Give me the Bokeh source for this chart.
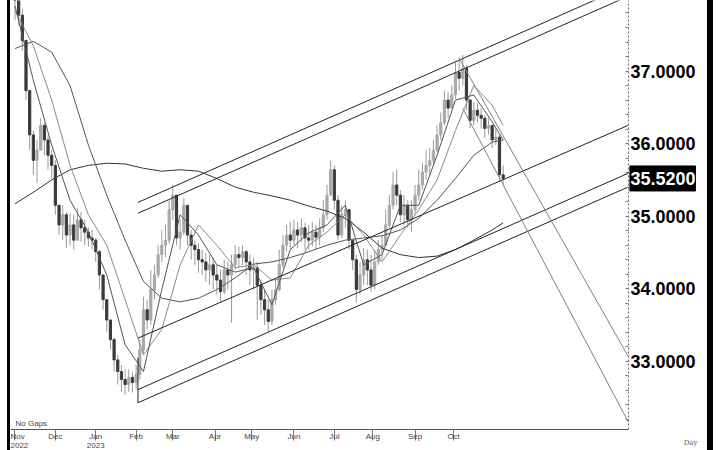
import numpy as np
import pandas as pd
from bokeh.plotting import figure
from bokeh.models import Range1d, FixedTicker, ColumnDataSource, Label, Div, LinearAxis
from bokeh.layouts import row
from bokeh.core.properties import value
from bokeh.embed import file_html
from bokeh.resources import INLINE

# ---------------- data (USD/THB daily, no gaps) ----------------
days = pd.bdate_range("2022-11-01", "2023-11-08")
bar_step = 2
first_open = 38.10

closes = [38.04, 37.77, 37.42, 36.73, 36.12, 35.77, 35.91, 36.25, 36.05, 35.84,
          35.70, 35.15, 34.88, 35.02, 34.74, 34.88, 34.67, 34.95, 34.84, 34.78,
          34.70, 34.67, 34.51, 34.19, 33.85, 33.57, 33.30, 33.02, 32.86, 32.75,
          32.68, 32.78, 32.71, 32.82, 33.16, 33.71, 33.57, 33.99, 34.19, 34.47,
          34.60, 34.67, 35.09, 35.29, 34.70, 34.78, 35.15, 34.74, 34.60, 34.54,
          34.40, 34.37, 34.26, 34.33, 34.19, 34.12, 33.96, 34.26, 34.19, 34.33,
          34.47, 34.43, 34.51, 34.37, 34.26, 34.29, 34.05, 33.85, 33.71, 33.55,
          33.85, 33.99, 34.33, 34.60, 34.74, 34.67, 34.81, 34.74, 34.84, 34.70,
          34.67, 34.78, 34.71, 34.84, 35.02, 35.29, 35.64, 35.22, 34.74, 35.02,
          35.09, 34.67, 34.40, 33.99, 34.19, 34.40, 34.26, 34.05, 34.37, 34.54,
          34.60, 34.88, 35.15, 35.43, 35.29, 35.02, 35.15, 34.95, 35.09, 35.29,
          35.43, 35.61, 35.70, 35.77, 35.91, 36.12, 36.29, 36.60, 36.49, 36.67,
          36.98, 36.90, 37.04, 36.60, 36.32, 36.46, 36.39, 36.35, 36.21, 36.25,
          36.05, 36.09, 35.57, 35.52]

highs = [38.25, 37.94, 37.86, 37.42, 36.73, 36.18, 36.05, 36.35, 36.29, 36.12,
         35.91, 35.77, 35.15, 35.15, 35.06, 35.04, 35.02, 35.11, 35.06, 34.95,
         34.84, 34.81, 34.70, 34.54, 34.19, 33.85, 33.57, 33.33, 33.09, 32.95,
         32.89, 32.89, 32.86, 32.95, 33.30, 33.89, 33.85, 34.26, 34.33, 34.60,
         34.81, 34.88, 35.22, 35.43, 35.29, 34.95, 35.25, 35.15, 34.81, 34.67,
         34.63, 34.54, 34.49, 34.47, 34.43, 34.33, 34.26, 34.40, 34.37, 34.47,
         34.60, 34.58, 34.60, 34.54, 34.47, 34.43, 34.37, 34.12, 33.99, 33.85,
         33.99, 34.12, 34.54, 34.74, 34.88, 34.92, 34.95, 34.92, 34.97, 34.91,
         34.88, 34.92, 34.88, 34.97, 35.22, 35.43, 35.77, 35.70, 35.29, 35.15,
         35.22, 35.09, 34.67, 34.47, 34.37, 34.56, 34.54, 34.47, 34.54, 34.67,
         34.74, 35.09, 35.29, 35.61, 35.64, 35.36, 35.29, 35.22, 35.22, 35.43,
         35.64, 35.74, 35.91, 35.94, 36.05, 36.25, 36.43, 36.73, 36.71, 36.80,
         37.12, 37.15, 37.22, 37.08, 36.62, 36.57, 36.56, 36.49, 36.39, 36.35,
         36.21, 36.21, 36.12, 35.70]

lows = [37.70, 37.63, 37.28, 36.60, 35.91, 35.57, 35.46, 35.91, 35.84, 35.64,
        35.52, 35.02, 34.74, 34.67, 34.56, 34.60, 34.54, 34.67, 34.65, 34.60,
        34.58, 34.54, 34.37, 33.99, 33.71, 33.41, 33.16, 32.86, 32.68, 32.58,
        32.54, 32.58, 32.57, 32.61, 32.75, 33.10, 33.44, 33.50, 33.85, 34.15,
        34.37, 34.44, 34.62, 34.95, 34.60, 34.54, 34.74, 34.60, 34.40, 34.33,
        34.22, 34.19, 34.10, 34.05, 33.99, 33.92, 33.82, 33.92, 33.99, 33.53,
        34.26, 34.29, 34.33, 34.19, 34.05, 33.99, 33.57, 33.64, 33.50, 33.40,
        33.50, 33.78, 33.96, 34.29, 34.51, 34.54, 34.60, 34.56, 34.65, 34.54,
        34.54, 34.58, 34.54, 34.60, 34.78, 34.95, 35.29, 35.09, 34.67, 34.70,
        34.84, 34.54, 34.26, 33.81, 33.92, 34.05, 34.05, 33.96, 33.99, 34.33,
        34.40, 34.60, 34.84, 35.09, 35.15, 34.92, 34.88, 34.84, 34.78, 35.02,
        35.22, 35.36, 35.50, 35.57, 35.70, 35.88, 36.05, 36.25, 36.35, 36.49,
        36.62, 36.73, 36.80, 36.46, 36.21, 36.25, 36.29, 36.21, 36.08, 36.12,
        35.94, 35.98, 35.47, 35.44]

# moving averages (weekday index, value)
ma_days = [0, 10, 20, 30, 40, 50, 60, 70, 80, 90, 100, 110, 120, 130, 140,
           150, 160, 170, 180, 190, 200, 210, 220, 230, 240, 250, 260, 266]
ma200 = [35.17, 35.33, 35.50, 35.64, 35.70, 35.73, 35.72, 35.66, 35.62, 35.64,
         35.62, 35.52, 35.40, 35.33, 35.28, 35.22, 35.14, 35.07, 34.97, 34.78,
         34.56, 34.47, 34.43, 34.45, 34.54, 34.67, 34.81, 34.91]
ma50 = [37.31, 37.41, 37.26, 36.80, 35.98, 35.29, 34.67, 34.10, 33.87, 33.82,
        33.87, 33.99, 34.15, 34.34, 34.37, 34.43, 34.51, 34.60, 34.67, 34.70,
        34.73, 34.81, 34.97, 35.22, 35.52, 35.84, 36.02, 36.05]
ma20 = [37.83, 37.35, 36.60, 35.70, 35.02, 34.60, 33.85, 33.09, 33.44, 34.33,
        34.88, 34.60, 34.29, 34.33, 34.12, 34.15, 34.60, 34.78, 35.02, 34.74,
        34.37, 34.74, 35.09, 35.50, 36.18, 36.80, 36.53, 36.25]
ma10 = [37.90, 36.87, 35.98, 35.22, 34.78, 34.19, 33.23, 32.86, 33.99, 35.02,
        34.74, 34.33, 34.23, 34.29, 33.78, 34.54, 34.77, 34.88, 35.15, 34.33,
        34.47, 35.15, 35.15, 35.84, 36.60, 36.67, 36.30, 36.05]

# drawn trend channel and fan lines (weekday index, value)
chan_start = [67, 67, 67, 67, 67]
chan_start_val = [35.19, 35.04, 33.32, 32.61, 32.43]
chan_end = [334, 334, 334, 334, 334]
chan_end_val = [38.18, 38.03, 36.25, 35.59, 35.40]
anchor_val = [33.05, 32.43]
fan_start = [241.7, 243.9]
fan_start_val = [37.19, 36.49]
fan_end = [334.3, 334.3]
fan_end_val = [33.06, 32.16]

month_periods = ["2022-11", "2022-12", "2023-01", "2023-02", "2023-03", "2023-04",
                 "2023-05", "2023-06", "2023-07", "2023-08", "2023-09", "2023-10"]
month_names = ["Nov", "Dec", "Jan", "Feb", "Mar", "Apr", "May", "Jun", "Jul", "Aug", "Sep", "Oct"]
year_marks = {"2022-11": "2022", "2023-01": "2023"}
price_ticks = [33, 34, 35, 36, 37]
last_price = 35.52
period_name = "Day"

# ---------------- main chart ----------------
y_range = Range1d(32.061, 37.972)
p = figure(width=619, height=450, x_range=Range1d(-2.45, 334.3), y_range=y_range,
           output_backend="svg", toolbar_location=None, y_axis_location="right",
           min_border_left=0, min_border_top=0, min_border_right=1, min_border_bottom=20)
p.grid.visible = False
p.outline_line_color = None

bx = np.arange(len(days))[::bar_step]
opens = [first_open] + closes[:-1]
top = np.maximum(opens, closes)
bot = np.minimum(opens, closes)
colors = ["#a8a8a8" if c >= o else "#3a3a3a" for o, c in zip(opens, closes)]
src = ColumnDataSource(dict(x=bx, top=top, bottom=bot, high=highs, low=lows, color=colors))
p.segment(x0="x", y0="low", x1="x", y1="high", source=src, line_color="#9a9a9a", line_width=1)
p.vbar(x="x", width=1.2, top="top", bottom="bottom", fill_color="color", line_color="color", source=src)

p.line(ma_days, ma200, line_color="#333333", line_width=1)
p.line(ma_days, ma50, line_color="#555555", line_width=1)
p.line(ma_days, ma20, line_color="#8a8a8a", line_width=1)
p.line(ma_days, ma10, line_color="#555555", line_width=1)

p.segment(x0=chan_start, y0=chan_start_val, x1=chan_end, y1=chan_end_val, line_color="#222222", line_width=1)
p.segment(x0=[chan_start[0]], y0=[anchor_val[0]], x1=[chan_start[0]], y1=[anchor_val[1]],
          line_color="#222222", line_width=1)
p.segment(x0=fan_start, y0=fan_start_val, x1=fan_end, y1=fan_end_val, line_color="#808080", line_width=1)

# right price axis: tick marks only (labels live in the strip beside it)
yax = p.yaxis[0]
yax.ticker = FixedTicker(ticks=[], minor_ticks=list(np.round(np.arange(32.2, 37.9, 0.2), 1)))
yax.major_label_standoff = 0
yax.minor_tick_in = 3
yax.minor_tick_out = 0
yax.axis_line_color = "#666666"
yax.axis_line_dash = "2 2"
yax.minor_tick_line_color = "#777777"

# month axis
month_idx = [int(np.argmax(days >= pd.Timestamp(mp + "-01"))) for mp in month_periods]
xax = p.xaxis[0]
xax.ticker = FixedTicker(ticks=month_idx)
xax.major_label_overrides = {i: n for i, n in zip(month_idx, month_names)}
xax.major_label_text_align = "left"
xax.major_label_text_font = "Liberation Sans"
xax.major_label_text_font_size = "8px"
xax.major_label_text_color = "#444444"
xax.major_label_standoff = -9
xax.major_tick_in = 0
xax.major_tick_out = 11
xax.minor_tick_out = 0
xax.axis_line_color = "#555555"
xax.major_tick_line_color = "#777777"

# year axis
year_idx = [i for mp, i in zip(month_periods, month_idx) if mp in year_marks]
yrax = LinearAxis(ticker=FixedTicker(ticks=year_idx),
                  major_label_overrides={i: year_marks[mp] for mp, i in zip(month_periods, month_idx) if mp in year_marks})
yrax.major_label_text_align = "left"
yrax.major_label_text_font = "Liberation Sans"
yrax.major_label_text_font_size = "8px"
yrax.major_label_text_color = "#444444"
yrax.major_label_standoff = -1
yrax.major_tick_in = 0
yrax.major_tick_out = 0
yrax.minor_tick_out = 0
yrax.axis_line_color = None
yrax.major_tick_line_color = None
p.add_layout(yrax, "below")

p.add_layout(Label(x=0.3, y=32.075, text="No Gaps", text_font="Liberation Sans", text_font_size="8px",
                   text_color="#444444", text_baseline="bottom"))

# ---------------- price label strip (shares the price scale) ----------------
q = figure(width=78, height=450, x_range=Range1d(0, 78), y_range=y_range,
           output_backend="svg", toolbar_location=None, min_border=0, min_border_bottom=20)
q.grid.visible = False
q.outline_line_color = None
q.yaxis.visible = False
q.text(x=[1] * len(price_ticks), y=price_ticks, text=[f"{t:.4f}" for t in price_ticks],
       text_font=value("Liberation Sans"), text_font_style="bold", text_font_size=value("18px"),
       text_color="black", text_align="left", text_baseline="middle")
q.rect(x=[33], y=[last_price], width=66, height=25, height_units="screen",
       fill_color="black", line_color="black")
q.text(x=[1], y=[last_price], text=[f"{last_price:.4f}"],
       text_font=value("Liberation Sans"), text_font_style="bold", text_font_size=value("18px"),
       text_color="white", text_align="left", text_baseline="middle")
qx = q.xaxis[0]
qx.ticker = FixedTicker(ticks=[61])
qx.major_label_overrides = {61: period_name}
qx.major_label_text_align = "left"
qx.major_label_text_font = "DejaVu Serif"
qx.major_label_text_font_size = "7px"
qx.major_label_text_color = "#555555"
qx.major_label_standoff = 9
qx.major_tick_in = 0
qx.major_tick_out = 0
qx.minor_tick_out = 0
qx.axis_line_color = None
qx.major_tick_line_color = None

spacer = Div(text="", width=7, height=450, margin=0)
left_bar = Div(text="", width=3, height=450, margin=0, styles={"background-color": "black"})
right_bar = Div(text="", width=6, height=450, margin=0, styles={"background-color": "black"})
layout = row(spacer, left_bar, p, q, right_bar, spacing=0)

open("out.html", "w").write(file_html(layout, INLINE))
